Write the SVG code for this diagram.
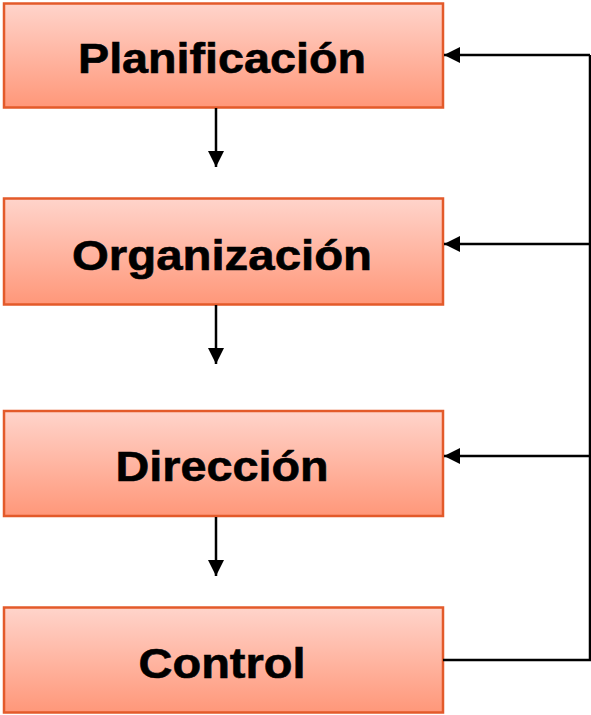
<svg xmlns="http://www.w3.org/2000/svg" width="591" height="715" viewBox="0 0 591 715">
  <defs>
    <linearGradient id="g" x1="0" y1="0" x2="0" y2="1">
      <stop offset="0" stop-color="#FFD4CB"/>
      <stop offset="1" stop-color="#FF9779"/>
    </linearGradient>
    <marker id="ah" viewBox="0 0 10 10" refX="10" refY="5" markerWidth="6.4" markerHeight="6.4" orient="auto" markerUnits="strokeWidth">
      <path d="M0,0 L10,5 L0,10 z" fill="#000"/>
    </marker>
  </defs>
  <style>
    .box { fill: url(#g); stroke: #E35A2A; stroke-width: 2.5; }
    .lbl { font-family: "Liberation Sans", Arial, sans-serif; font-weight: bold; font-size: 42px; fill: #000; stroke: #000; stroke-width: 0.6; text-anchor: middle; }
    .ln { fill: none; stroke: #000; stroke-width: 2.5; }
    .arr { fill: none; stroke: #000; stroke-width: 2.5; marker-end: url(#ah); }
  </style>
  <g id="planificacion">
    <rect class="box" x="4" y="3.5" width="439" height="104"/>
    <text class="lbl" x="222" y="73" textLength="288" lengthAdjust="spacingAndGlyphs">Planificación</text>
  </g>
  <g id="organizacion">
    <rect class="box" x="4" y="198.5" width="439" height="106"/>
    <text class="lbl" x="222" y="270" textLength="300" lengthAdjust="spacingAndGlyphs">Organización</text>
  </g>
  <g id="direccion">
    <rect class="box" x="4" y="411" width="439" height="105"/>
    <text class="lbl" x="222" y="481" textLength="213" lengthAdjust="spacingAndGlyphs">Dirección</text>
  </g>
  <g id="control">
    <rect class="box" x="4" y="607.5" width="439" height="105"/>
    <text class="lbl" x="222" y="678" textLength="167" lengthAdjust="spacingAndGlyphs">Control</text>
  </g>
  <g id="connectors">
    <line class="arr" x1="216" y1="108" x2="216" y2="167"/>
    <line class="arr" x1="216" y1="305" x2="216" y2="364"/>
    <line class="arr" x1="216" y1="517" x2="216" y2="576"/>
    <polyline class="ln" points="443,660 590,660 590,55"/>
    <line class="arr" x1="590" y1="55" x2="444" y2="55"/>
    <line class="arr" x1="590" y1="244" x2="444" y2="244"/>
    <line class="arr" x1="590" y1="456" x2="444" y2="456"/>
  </g>
</svg>
